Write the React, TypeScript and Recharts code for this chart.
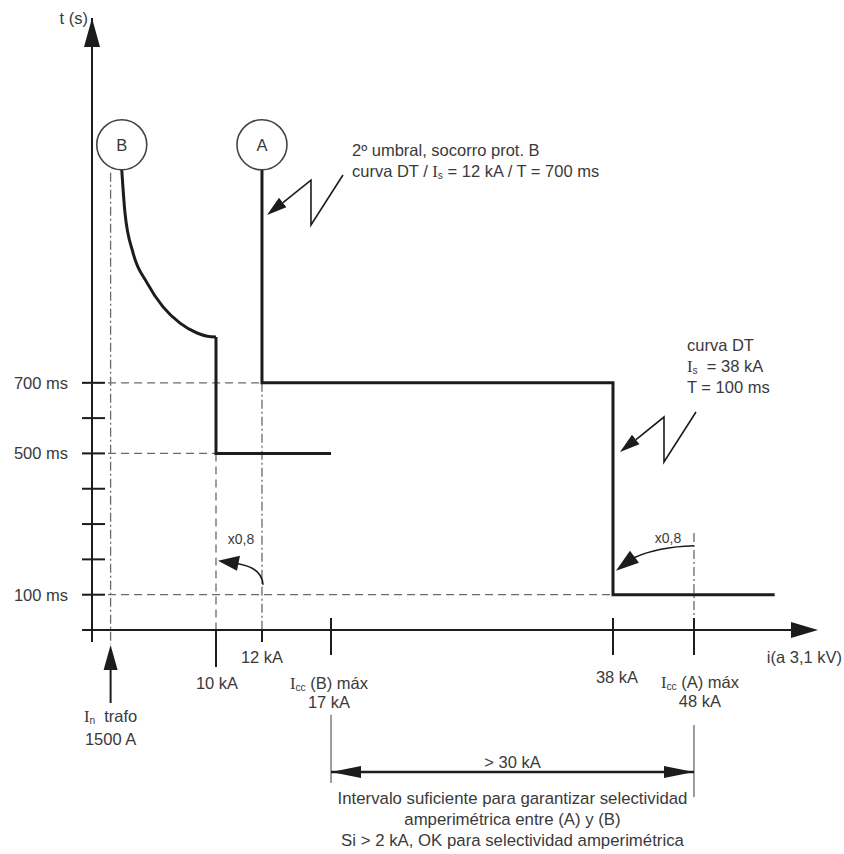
import React from 'react';
import { ComposedChart, Line, XAxis, YAxis, ReferenceLine, ReferenceDot } from 'recharts';

// protection B: inverse-time curve, then definite time 500 ms up to Icc(B) max
const B_CURVE_KA = [2.4, 2.66, 3.31, 4.44, 5.73, 7.1, 8.47, 9.3, 10];
const B_CURVE_MS = [1303, 1181, 1068, 983, 915, 869, 841, 832, 830];
const B_STEP_KA = [10, 10, 17];
const B_STEP_MS = [830, 500, 500];
// protection A: 2nd threshold 12 kA / 700 ms, DT 38 kA / 100 ms
const A_STEP_KA = [12, 12, 38, 38, 58];
const A_STEP_MS = [1303, 700, 700, 100, 100];

const X_TICKS = [10, 12, 17, 38, 48];
const X_TICK_LABELS: Record<number, string[]> = {
  10: ['10 kA'],
  12: ['12 kA'],
  17: ['I_cc (B) máx', '17 kA'],
  38: ['38 kA'],
  48: ['I_cc (A) máx', '48 kA'],
};
const Y_TICKS = [100, 200, 300, 400, 500, 600, 700];
const Y_TICK_LABELS: Record<number, string> = { 100: '100 ms', 500: '500 ms', 700: '700 ms' };

const IN_TRAFO_KA = 1.5;
const IN_TRAFO_LABEL = ['I_n  trafo', '1500 A'];
const NOTE_A = ['2º umbral, socorro prot. B', 'curva DT / I_s = 12 kA / T = 700 ms'];
const NOTE_DT = ['curva DT', 'I_s  = 38 kA', 'T = 100 ms'];
const GAP_LABEL = '> 30 kA';
const GAP_NOTE = [
  'Intervalo suficiente para garantizar selectividad',
  'amperimétrica entre (A) y (B)',
  'Si > 2 kA, OK para selectividad amperimétrica',
];
const FACTOR_LABEL = 'x0,8';

const FONT = "'Liberation Sans', Arial, sans-serif";
const SERIF = "'Liberation Serif', 'Times New Roman', serif";
const INK = '#1c1c1c';
const TEXT = '#3a3a3a';
const GUIDE = '#6a6a6a';
const FS = 16.5;

// the figure is schematic, not to scale: piecewise-linear current axis
const KNOT_KA = [0, 10, 12, 17, 38, 48, 63];
const KNOT_FRAC = [0, 0.1715, 0.2351, 0.3306, 0.7206, 0.8326, 1];

function schematicScale(): any {
  let dom = [KNOT_KA[0], KNOT_KA[KNOT_KA.length - 1]];
  let rng = [0, 1];
  const frac = (v: number) => {
    let k = 1;
    while (k < KNOT_KA.length - 1 && v > KNOT_KA[k]) k++;
    const a = KNOT_KA[k - 1], b = KNOT_KA[k];
    return KNOT_FRAC[k - 1] + ((v - a) / (b - a)) * (KNOT_FRAC[k] - KNOT_FRAC[k - 1]);
  };
  const s: any = (v: number) => rng[0] + frac(v) * (rng[1] - rng[0]);
  s.domain = (d?: number[]) => {
    if (!d) return dom.slice();
    dom = d.slice();
    return s;
  };
  s.range = (r?: number[]) => {
    if (!r) return rng.slice();
    rng = r.slice();
    return s;
  };
  s.copy = () => schematicScale().domain(dom).range(rng);
  s.ticks = () => KNOT_KA.slice();
  s.invert = (px: number) => {
    const f = (px - rng[0]) / (rng[1] - rng[0]);
    let k = 1;
    while (k < KNOT_FRAC.length - 1 && f > KNOT_FRAC[k]) k++;
    return KNOT_KA[k - 1] + ((f - KNOT_FRAC[k - 1]) / (KNOT_FRAC[k] - KNOT_FRAC[k - 1])) * (KNOT_KA[k] - KNOT_KA[k - 1]);
  };
  return s;
}
const xScale = schematicScale();

const toPoints = (ka: number[], ms: number[]) => ka.map((i, k) => ({ i, t: ms[k] }));
const bCurve = toPoints(B_CURVE_KA, B_CURVE_MS);
const bStep = toPoints(B_STEP_KA, B_STEP_MS);
const aStep = toPoints(A_STEP_KA, A_STEP_MS);

// "I_xx" -> serif I with subscript
function Rich({ text }: { text: string }) {
  const m = text.match(/^(.*?)I_(\w+)(.*)$/);
  if (!m) return <>{text}</>;
  return (
    <>
      {m[1]}
      <tspan fontFamily={SERIF}>I</tspan>
      <tspan fontSize="0.62em" dy={4}>{m[2]}</tspan>
      <tspan dy={-4}>{m[3]}</tspan>
    </>
  );
}

function Lines({ x, y, lines, anchor = 'start', gap = 21, size = FS }: any) {
  return (
    <text fill={TEXT} fontFamily={FONT} fontSize={size} textAnchor={anchor} dominantBaseline="central" xmlSpace="preserve">
      {lines.map((l: string, k: number) => (
        <tspan key={k} x={x} y={y + k * gap}>
          <Rich text={l} />
        </tspan>
      ))}
    </text>
  );
}

const TICK_LAYOUT: Record<number, { from: number; to: number; dx: number; dy: number }> = {
  10: { from: 0, to: 37, dx: 1, dy: 53 },
  12: { from: 0, to: 12, dx: 0, dy: 27 },
  17: { from: -12, to: 25, dx: -2, dy: 53 },
  38: { from: -12, to: 25, dx: 4, dy: 47 },
  48: { from: -12, to: 25, dx: 6, dy: 52 },
};

function XTick(props: any) {
  const { x, y, payload } = props;
  const v = payload.value;
  const lay = TICK_LAYOUT[v];
  return (
    <g>
      <line x1={x} x2={x} y1={y + lay.from} y2={y + lay.to} stroke={INK} strokeWidth={2} />
      <Lines x={x + lay.dx} y={y + lay.dy} lines={X_TICK_LABELS[v]} anchor="middle" gap={19} />
    </g>
  );
}

function YTick(props: any) {
  const { x, y, payload } = props;
  const label = Y_TICK_LABELS[payload.value];
  return (
    <g>
      <line x1={x - 10} x2={x + 13} y1={y} y2={y} stroke={INK} strokeWidth={2} />
      {label && (
        <text x={x - 24} y={y} fill={TEXT} fontFamily={FONT} fontSize={FS} textAnchor="end" dominantBaseline="central">
          {label}
        </text>
      )}
    </g>
  );
}

const Circle = (letter: string) => (p: any) => (
  <g>
    <circle cx={p.cx} cy={p.cy} r={25} fill="#fff" stroke="#444" strokeWidth={1.6} />
    <text x={p.cx} y={p.cy} fill={TEXT} fontFamily={FONT} fontSize={FS} textAnchor="middle" dominantBaseline="central">
      {letter}
    </text>
  </g>
);

// zigzag "lightning" leader with arrowhead pointing at (cx + tip, cy)
const Zigzag = (tip: number, note: string[], tx: number, ty: number) => (p: any) => {
  const { cx, cy } = p;
  const x = (v: number) => cx + v;
  const y = (v: number) => cy + v;
  return (
    <g>
      <polyline
        points={`${x(tip + 76)},${y(-40)} ${x(tip + 44)},${y(10)} ${x(tip + 44)},${y(-35)} ${x(tip + 16)},${y(-12.5)}`}
        fill="none"
        stroke={INK}
        strokeWidth={1.6}
      />
      <polygon
        points={`${x(tip)},${y(0)} ${x(tip + 19.4)},${y(-7.8)} ${x(tip + 12)},${y(-17.2)}`}
        fill={INK}
      />
      <Lines x={x(tx)} y={y(ty)} lines={note} gap={21} />
    </g>
  );
};

const FactorLeft = (p: any) => {
  const { cx, cy } = p;
  return (
    <g>
      <path d={`M${cx + 1},${cy - 10} Q${cx},${cy - 27} ${cx - 24},${cy - 31}`} fill="none" stroke={INK} strokeWidth={1.6} />
      <polygon points={`${cx - 44},${cy - 34} ${cx - 22},${cy - 39} ${cx - 25},${cy - 24}`} fill={INK} />
      <text x={cx - 21} y={cy - 56} fill={TEXT} fontFamily={FONT} fontSize={14} textAnchor="middle" dominantBaseline="central">
        {FACTOR_LABEL}
      </text>
    </g>
  );
};

const FactorRight = (p: any) => {
  const { cx, cy } = p;
  return (
    <g>
      <path d={`M${cx},${cy - 49} Q${cx - 36},${cy - 48} ${cx - 60},${cy - 37}`} fill="none" stroke={INK} strokeWidth={1.6} />
      <polygon points={`${cx - 78},${cy - 24} ${cx - 55},${cy - 32} ${cx - 64},${cy - 44}`} fill={INK} />
      <text x={cx - 26} y={cy - 57} fill={TEXT} fontFamily={FONT} fontSize={14} textAnchor="middle" dominantBaseline="central">
        {FACTOR_LABEL}
      </text>
    </g>
  );
};

const YArrow = (p: any) => (
  <g>
    <polygon points={`${p.cx},${p.cy} ${p.cx - 8},${p.cy + 29} ${p.cx + 8},${p.cy + 29}`} fill={INK} />
    <text x={p.cx - 4} y={p.cy} fill={TEXT} fontFamily={FONT} fontSize={FS} textAnchor="end" dominantBaseline="central">
      t (s)
    </text>
  </g>
);

const XArrow = (p: any) => (
  <g>
    <polygon points={`${p.cx + 3},${p.cy} ${p.cx - 24},${p.cy - 8} ${p.cx - 24},${p.cy + 8}`} fill={INK} />
    <text x={p.cx + 27} y={p.cy + 27} fill={TEXT} fontFamily={FONT} fontSize={FS} textAnchor="end" dominantBaseline="central">
      i(a 3,1 kV)
    </text>
  </g>
);

const TrafoArrow = (p: any) => (
  <g>
    <line x1={p.cx} x2={p.cx} y1={p.cy + 73} y2={p.cy + 34} stroke={INK} strokeWidth={2} />
    <polygon points={`${p.cx},${p.cy + 15} ${p.cx - 7},${p.cy + 40} ${p.cx + 7},${p.cy + 40}`} fill={INK} />
    <Lines x={p.cx} y={p.cy + 86} lines={IN_TRAFO_LABEL} anchor="middle" gap={23} />
  </g>
);

const HeadLeft = (p: any) => (
  <polygon points={`${p.cx},${p.cy} ${p.cx + 30},${p.cy - 6} ${p.cx + 30},${p.cy + 6}`} fill={INK} />
);
const HeadRight = (p: any) => (
  <polygon points={`${p.cx},${p.cy} ${p.cx - 30},${p.cy - 6} ${p.cx - 30},${p.cy + 6}`} fill={INK} />
);

const GapText = (props: any) => {
  const vb = props.viewBox || {};
  const cx = vb.x1 !== undefined ? (vb.x1 + vb.x2) / 2 : vb.x + (vb.width || 0) / 2;
  const cy = vb.y1 !== undefined ? vb.y1 : vb.y;
  return (
    <g>
      <Lines x={cx} y={cy - 10} lines={[GAP_LABEL]} anchor="middle" />
      <Lines x={cx} y={cy + 26} lines={GAP_NOTE} anchor="middle" gap={21} size={16.8} />
    </g>
  );
};

const dashed = { stroke: GUIDE, strokeWidth: 1.3, strokeDasharray: '8 5', ifOverflow: 'visible' as const };
const dashDot = { stroke: GUIDE, strokeWidth: 1.3, strokeDasharray: '9 3 2 3', ifOverflow: 'visible' as const };
const solid = { stroke: INK, strokeWidth: 2, ifOverflow: 'visible' as const };

export default function App() {
  return (
    <div style={{ position: 'absolute', left: 0, top: 0, background: '#fff' }}>
      <ComposedChart width={844} height={854} margin={{ top: 18, right: 29, bottom: 194, left: 32 }}>
        <XAxis
          dataKey="i"
          type="number"
          scale={xScale}
          domain={[0, 63]}
          ticks={X_TICKS}
          interval={0}
          height={30}
          tickSize={0}
          tickMargin={0}
          tickLine={false}
          axisLine={{ stroke: INK, strokeWidth: 2 }}
          tick={(p: any) => <XTick {...p} />}
        />
        <YAxis
          type="number"
          domain={[0, 1733]}
          ticks={Y_TICKS}
          interval={0}
          width={60}
          tickSize={0}
          tickMargin={0}
          tickLine={false}
          axisLine={{ stroke: INK, strokeWidth: 2 }}
          tick={(p: any) => <YTick {...p} />}
        />

        {/* axis stubs */}
        <ReferenceLine segment={[{ x: -0.8, y: 0 }, { x: 0, y: 0 }]} {...solid} />
        <ReferenceLine segment={[{ x: 0, y: 0 }, { x: 0, y: -34 }]} {...solid} />

        {/* guide lines */}
        <ReferenceLine segment={[{ x: -0.8, y: 700 }, { x: 12, y: 700 }]} {...dashed} />
        <ReferenceLine segment={[{ x: -0.8, y: 500 }, { x: 10, y: 500 }]} {...dashed} />
        <ReferenceLine segment={[{ x: -0.8, y: 100 }, { x: 38, y: 100 }]} {...dashed} />
        <ReferenceLine segment={[{ x: 10, y: 500 }, { x: 10, y: 0 }]} {...dashed} />
        <ReferenceLine segment={[{ x: 12, y: 700 }, { x: 12, y: 0 }]} {...dashDot} />
        <ReferenceLine segment={[{ x: IN_TRAFO_KA, y: 1295 }, { x: IN_TRAFO_KA, y: -40 }]} {...dashDot} />
        <ReferenceLine segment={[{ x: 48, y: 275 }, { x: 48, y: 0 }]} {...dashDot} />

        {/* protection curves */}
        <Line data={bCurve} dataKey="t" type="monotone" stroke={INK} strokeWidth={3} dot={false} isAnimationActive={false} />
        <Line data={bStep} dataKey="t" type="linear" stroke={INK} strokeWidth={3} dot={false} isAnimationActive={false} />
        <Line data={aStep} dataKey="t" type="linear" stroke={INK} strokeWidth={3} dot={false} isAnimationActive={false} />

        {/* labels on curves */}
        <ReferenceDot x={2.4} y={1374} r={25} ifOverflow="visible" shape={Circle('B')} />
        <ReferenceDot x={12} y={1374} r={25} ifOverflow="visible" shape={Circle('A')} />
        <ReferenceDot x={12} y={1175} r={0} ifOverflow="visible" shape={Zigzag(5, NOTE_A, 90, -65)} />
        <ReferenceDot x={38} y={504} r={0} ifOverflow="visible" shape={Zigzag(7, NOTE_DT, 74, -107)} />
        <ReferenceDot x={12} y={100} r={0} ifOverflow="visible" shape={FactorLeft} />
        <ReferenceDot x={48} y={100} r={0} ifOverflow="visible" shape={FactorRight} />

        {/* axis arrows */}
        <ReferenceDot x={0} y={1733} r={0} ifOverflow="visible" shape={YArrow} />
        <ReferenceDot x={63} y={0} r={0} ifOverflow="visible" shape={XArrow} />
        <ReferenceDot x={IN_TRAFO_KA} y={0} r={0} ifOverflow="visible" shape={TrafoArrow} />

        {/* Icc(B) .. Icc(A) interval */}
        <ReferenceLine segment={[{ x: 17, y: -240 }, { x: 17, y: -433 }]} stroke={GUIDE} strokeWidth={1.3} ifOverflow="visible" />
        <ReferenceLine segment={[{ x: 48, y: -269 }, { x: 48, y: -473 }]} stroke={GUIDE} strokeWidth={1.3} ifOverflow="visible" />
        <ReferenceLine
          segment={[{ x: 17, y: -402 }, { x: 48, y: -402 }]}
          stroke={INK}
          strokeWidth={2.5}
          ifOverflow="visible"
          label={(p: any) => <GapText {...p} />}
        />
        <ReferenceDot x={17} y={-402} r={0} ifOverflow="visible" shape={HeadLeft} />
        <ReferenceDot x={48} y={-402} r={0} ifOverflow="visible" shape={HeadRight} />
      </ComposedChart>
    </div>
  );
}
